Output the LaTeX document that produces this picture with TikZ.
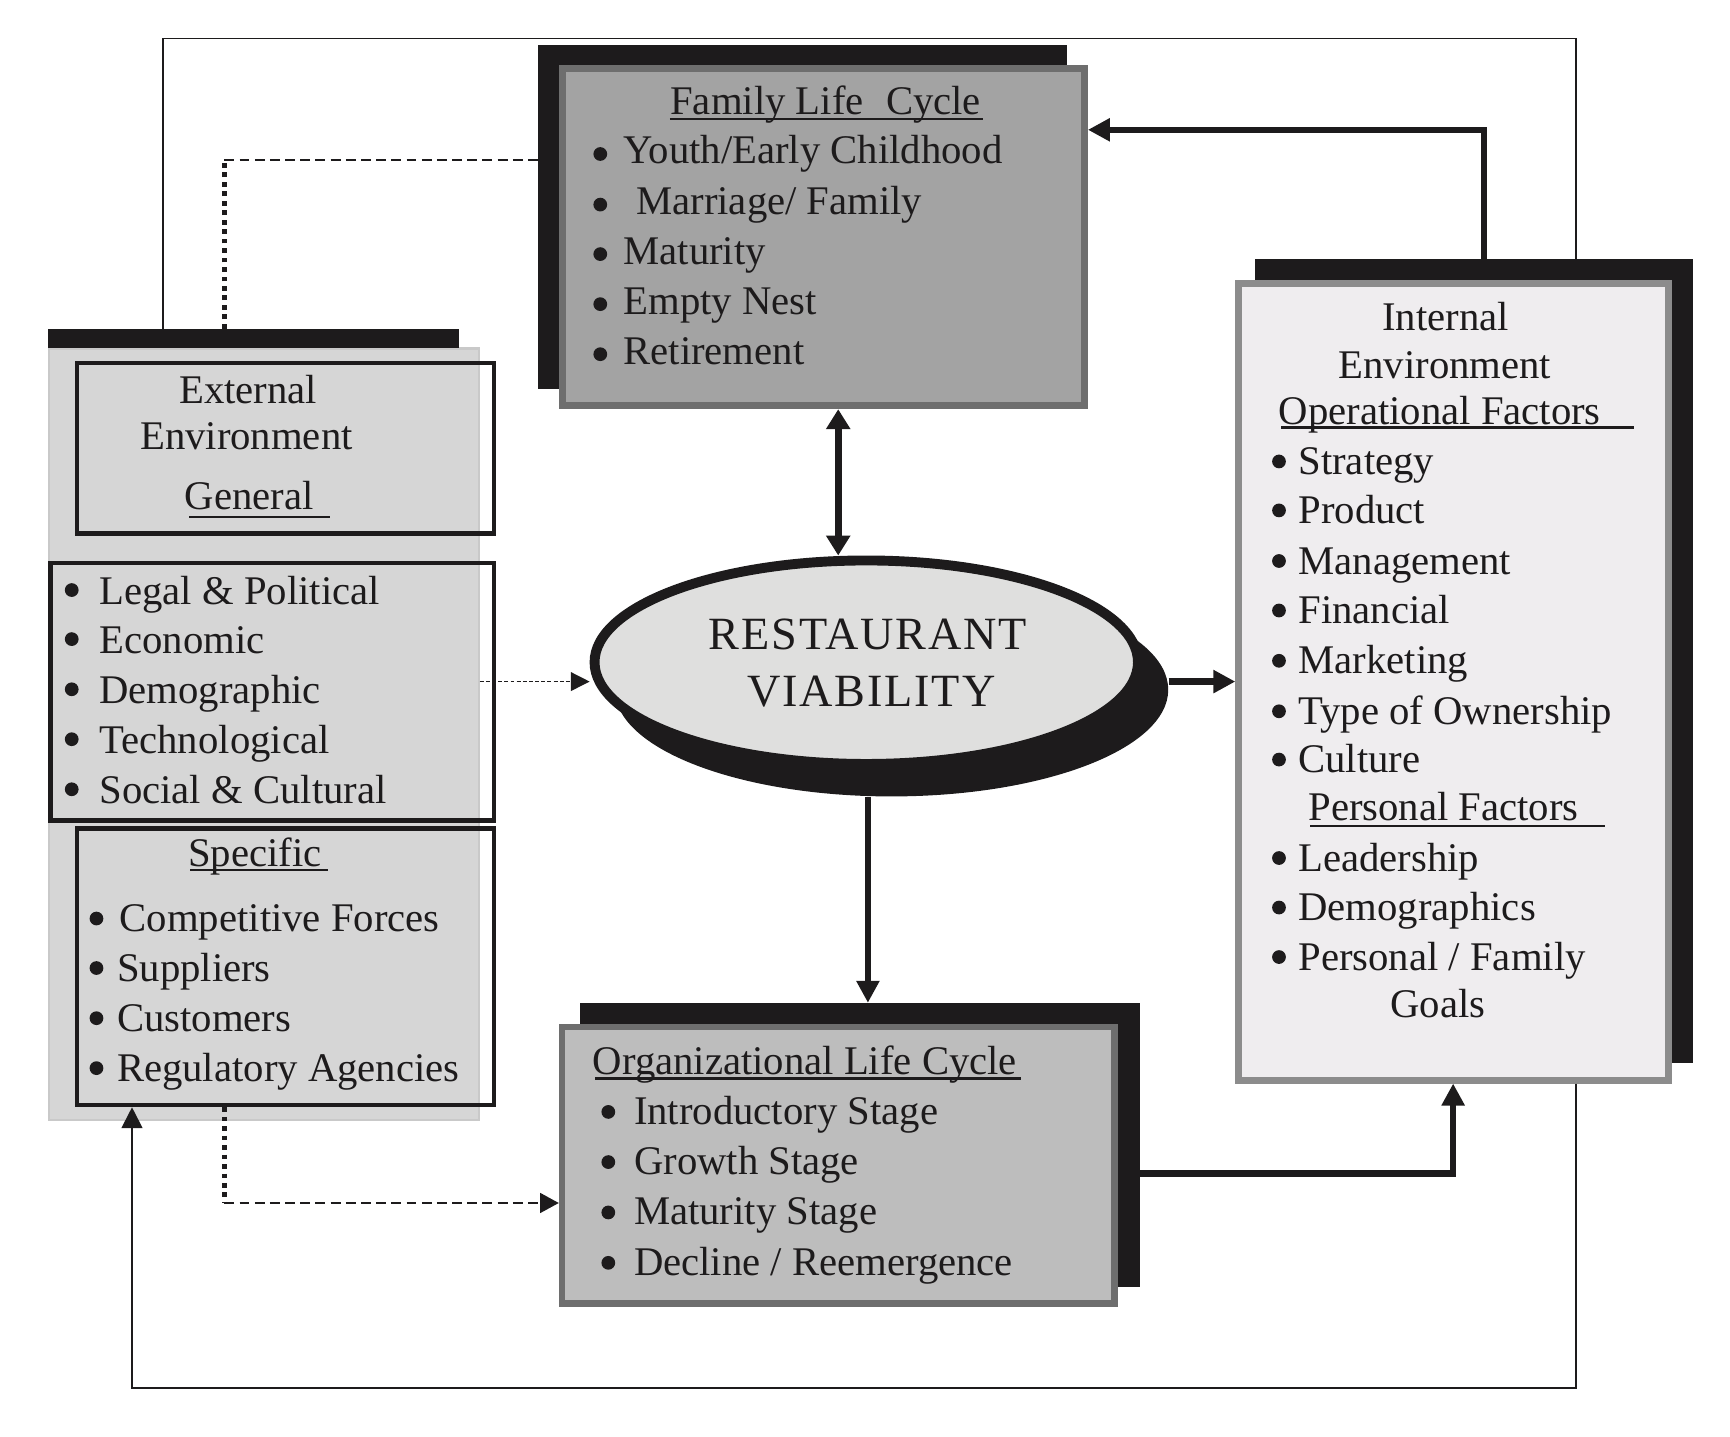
\documentclass[tikz,border=0pt]{standalone}
\usepackage{fontspec}
\setmainfont{Liberation Serif}
\newfontfamily\ellfont[LetterSpace=4]{Liberation Serif}
\usetikzlibrary{arrows.meta,shapes.geometric,fit}
\newdimen\ux \ux=0.5pt
\definecolor{blk}{HTML}{1D1B1C}
\definecolor{famfill}{HTML}{A3A3A3}
\definecolor{orgfill}{HTML}{BDBDBD}
\definecolor{bordgray}{HTML}{6E6E6E}
\definecolor{intfill}{HTML}{EFEDEF}
\definecolor{intbord}{HTML}{8C8C8C}
\definecolor{extfill}{HTML}{D6D6D6}
\definecolor{extedge}{HTML}{C9C9C9}
\definecolor{ellfill}{HTML}{DFDFDE}
% name, bullet x, text x, baseline y, text, bullet rise
\newcommand\bitem[6]{\node[bul] (#1b) at (#2,#4-#6) {}; \node[txt] (#1) at (#3,#4) {#5};}
\begin{document}
\begin{tikzpicture}[x=0.5pt,y=-0.5pt,
  shadowbox/.style={fill=blk,draw=none,inner sep=0pt,outer sep=0pt},
  txt/.style={anchor=base west,inner sep=0pt,font=\fontsize{18.5pt}{22pt}\selectfont,text=blk},
  ctxt/.style={txt,anchor=base},
  bul/.style={circle,fill=blk,draw=none,inner sep=0pt,minimum size=12.5\ux},
  ul/.style={draw=blk,line width=1pt},
  thickline/.style={draw=blk,line width=3pt},
  thickarrow/.style={thickline,-{Triangle[length=10pt,width=10pt]}},
  dblarrow/.style={thickline,{Triangle[length=9pt,width=10.5pt]}-{Triangle[length=9pt,width=10.5pt]}},
  thinline/.style={draw=blk,line width=0.9pt},
  thinarrow/.style={thinline,-{Triangle[length=9.5pt,width=9.5pt]}},
  dotv/.style={draw=blk,line width=2.1pt,dash pattern=on 2.15pt off 2.15pt},
  dashh/.style={draw=blk,line width=1pt,dash pattern=on 4.5pt off 2.4pt},
  dashfine/.style={draw=blk,line width=0.6pt,dash pattern=on 1.8pt off 1pt,-{Triangle[length=8.5pt,width=8.5pt]}},
  boxstyle/.style={inner sep=0pt}
]
\useasboundingbox (0,0) rectangle (1572.7,1305.5);

% ---------- External environment ----------
\node[boxstyle,fill=extfill,draw=extedge,line width=1pt,fit={(44.5,316.9) (435.1,1018.2)}] (extP) {};
\node[shadowbox,fit={(44,298.7) (417,316.4)}] (extBar) {};
\node[boxstyle,draw=blk,line width=2pt,fit={(70,330) (449,485)}] (gen) {};
\node[boxstyle,draw=blk,line width=2pt,fit={(46,511.7) (449,746)}] (lst) {};
\node[boxstyle,draw=blk,line width=2pt,fit={(70,753) (449,1004.6)}] (spc) {};

% ---------- Family life cycle ----------
\node[shadowbox,fit={(489,41) (970,354)}] (famS) {};
\node[boxstyle,fill=famfill,draw=bordgray,line width=3.2pt,fit={(511.2,62.2) (985.8,368.8)}] (fam) {};

% ---------- Internal environment ----------
\node[shadowbox,fit={(1141,235.7) (1539,966)}] (intS) {};
\node[boxstyle,fill=intfill,draw=intbord,line width=3.1pt,fit={(1126.1,257.6) (1516.9,981.9)}] (int) {};

% ---------- Organizational life cycle ----------
\node[shadowbox,fit={(527,911.6) (1036,1170)}] (orgS) {};
\node[boxstyle,fill=orgfill,draw=bordgray,line width=3pt,fit={(511,933.5) (1013,1185)}] (org) {};

% ---------- Ellipse ----------
\node[ellipse,fill=blk,inner sep=0pt,minimum width=503\ux,minimum height=194\ux] (ellS) at (810.5,627) {};
\node[ellipse,draw=blk,fill=ellfill,line width=4.5pt,inner sep=0pt,minimum width=494\ux,minimum height=185\ux] (ell) at (787.5,602) {};
\node[ctxt,font=\ellfont\fontsize{21pt}{24pt}\selectfont] (rv1) at (789,590.7) {RESTAURANT};
\node[ctxt,font=\ellfont\fontsize{21pt}{24pt}\selectfont] (rv2) at (792,642) {VIABILITY};

% ---------- Texts: family ----------
\node[txt] (famT) at (609,104.5) {Family Life\hspace{0.3em} Cycle};
\draw[ul] (609,108.3) -- (894,108.3);
\bitem{f1}{545.7}{566.4}{149}{Youth/Early Childhood}{9}
\bitem{f2}{545.7}{578}{195}{Marriage/ Family}{9}
\bitem{f3}{545.7}{566.4}{240}{Maturity}{9}
\bitem{f4}{545.7}{566.4}{285.5}{Empty Nest}{9}
\bitem{f5}{545.7}{566.4}{331}{Retirement}{9}

% ---------- Texts: internal ----------
\node[ctxt] (i0a) at (1314,300) {Internal};
\node[ctxt] (i0b) at (1313.5,344) {Environment};
\node[txt] (i0c) at (1162,386) {Operational Factors};
\draw[ul] (1164.6,388.7) -- (1485.5,388.7);
\bitem{i1}{1162.7}{1180}{431.5}{Strategy}{12}
\bitem{i2}{1162.7}{1180}{476}{Product}{12}
\bitem{i3}{1162.7}{1180}{522}{Management}{12}
\bitem{i4}{1162.7}{1180}{567}{Financial}{12}
\bitem{i5}{1162.7}{1180}{612.7}{Marketing}{12}
\bitem{i6}{1162.7}{1180}{658.6}{Type of Ownership}{12}
\bitem{i7}{1162.7}{1180}{702.5}{Culture}{12}
\node[txt] (ipf) at (1189,746) {Personal Factors};
\draw[ul] (1191,750.7) -- (1459,750.7);
\bitem{i8}{1162.7}{1180}{792}{Leadership}{12}
\bitem{i9}{1162.7}{1180}{837}{Demographics}{12}
\bitem{i10}{1162.7}{1180}{882}{Personal / Family}{12}
\node[ctxt] (i11) at (1307,925) {Goals};

% ---------- Texts: external ----------
\node[ctxt] (e1) at (225.6,367) {External};
\node[ctxt] (e2) at (224,409) {Environment};
\node[ctxt] (e3) at (226.5,463) {General};
\draw[ul] (172,470) -- (300,470);
\bitem{g1}{65.2}{90}{549.4}{Legal \& Political}{13}
\bitem{g2}{65.2}{90}{594}{Economic}{13}
\bitem{g3}{65.2}{90}{639.6}{Demographic}{13}
\bitem{g4}{65.2}{90}{685}{Technological}{13}
\bitem{g5}{65.2}{90}{730.5}{Social \& Cultural}{13}
\node[ctxt] (s0) at (231.8,787.5) {Specific};
\draw[ul] (173,790.7) -- (298,790.7);
\bitem{s1}{87.7}{108.5}{847}{Competitive Forces}{12}
\bitem{s2}{87.7}{106}{892}{Suppliers}{12}
\bitem{s3}{87.7}{106}{937.6}{Customers}{12}
\bitem{s4}{87.7}{106}{983}{Regulatory Agencies}{12}

% ---------- Texts: organizational ----------
\node[txt] (o0) at (538.5,977) {Organizational Life Cycle};
\draw[ul] (541,980.5) -- (928.6,980.5);
\bitem{o1}{553}{576}{1022}{Introductory Stage}{11.2}
\bitem{o2}{553}{576}{1067.6}{Growth Stage}{11.2}
\bitem{o3}{553}{576}{1113.4}{Maturity Stage}{11.2}
\bitem{o4}{553}{576}{1159.2}{Decline / Reemergence}{11.2}

% ---------- Connectors ----------
\coordinate (cA) at (762,0);
\draw[dblarrow] (fam.south -| cA) -- (ell.north -| cA);
\coordinate (cB) at (789,0);
\draw[thickarrow] (ellS.south -| cB) -- (orgS.north -| cB);
\coordinate (cC) at (0,619.6);
\draw[thickarrow] (ellS.east |- cC) -- (int.west |- cC);
\coordinate (cD) at (1349,118);
\draw[thickarrow] (int.north -| cD) |- (fam.east |- cD);
\coordinate (cE) at (1321,1067);
\draw[thickarrow] (orgS.east |- cE) -| (int.south -| cE);

\coordinate (fTL) at (148.4,35);
\coordinate (fTR) at (1433,35);
\draw[thinline] (extBar.north -| fTL) -- (fTL) -- (fTR) -- (int.north -| fTR);
\coordinate (fBR) at (1433,1262);
\coordinate (fBL) at (120,1262);
\draw[thinarrow] (int.south -| fBR) -- (fBR) -- (fBL) -- (spc.south -| fBL);

\coordinate (dT) at (204,145.5);
\draw[dotv] (extBar.north -| dT) -- (dT);
\draw[dashh] (dT) -- (famS.west |- dT);
\coordinate (dB) at (204,1093.6);
\draw[dotv] (spc.south -| dB) -- (dB);
\draw[dashh,-{Triangle[length=8.5pt,width=9pt]}] (dB) -- (org.west |- dB);

\coordinate (cF) at (0,619.6);
\draw[dashfine] (extP.east |- cF) -- (ell.west |- cF);
\end{tikzpicture}
\end{document}
